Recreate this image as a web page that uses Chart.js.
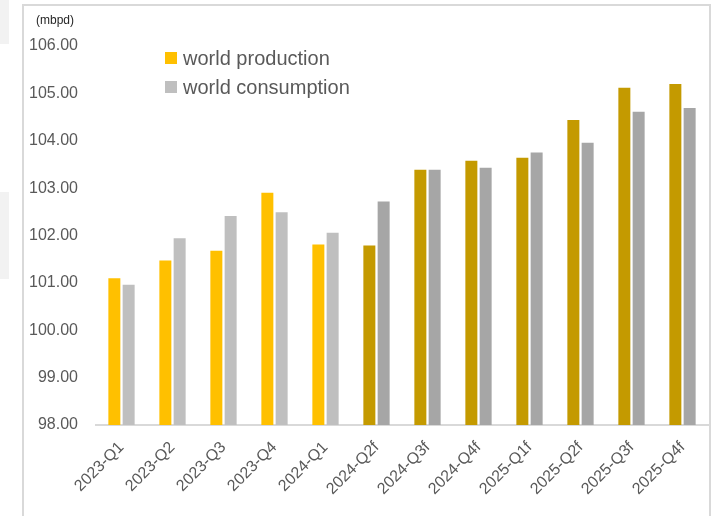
<!DOCTYPE html>
<html>
<head>
<meta charset="utf-8">
<script src="https://cdn.jsdelivr.net/npm/chart.js@4.4.0/dist/chart.umd.min.js"></script>
<style>
  body { margin: 0; background: #fff; overflow: hidden; }
  .side { position: absolute; left: 0; width: 9px; background: #f2f2f2; }
  #frame {
    position: absolute; left: 22px; top: 4px; width: 689px; height: 540px;
    border: 2px solid #d9d9d9; border-bottom: none; box-sizing: border-box;
  }
</style>
</head>
<body>
<div class="side" style="top:0;height:44px"></div>
<div class="side" style="top:192px;height:87px"></div>
<div id="frame"><canvas id="c"></canvas></div>
<script>
// quarters, forecasts marked with "f"
const quarters = ["2023-Q1", "2023-Q2", "2023-Q3", "2023-Q4", "2024-Q1", "2024-Q2f",
  "2024-Q3f", "2024-Q4f", "2025-Q1f", "2025-Q2f", "2025-Q3f", "2025-Q4f"];
const production = [101.10, 101.47, 101.68, 102.90, 101.81, 101.79,
  103.39, 103.58, 103.64, 104.44, 105.12, 105.20];
const consumption = [100.96, 101.94, 102.41, 102.49, 102.06, 102.72,
  103.39, 103.43, 103.75, 103.96, 104.61, 104.69];
const yTicks = [98, 99, 100, 101, 102, 103, 104, 105, 106];

const TEXT = "#595959";
const FONT = "'Liberation Sans', Arial, sans-serif";

// forecast bars are drawn darker
const isForecast = q => q.endsWith("f");
const prodColors = quarters.map(q => isForecast(q) ? "#C49A00" : "#FFC000");
const consColors = quarters.map(q => isForecast(q) ? "#A6A6A6" : "#BFBFBF");

// legend sits inside the plot, plus the unit label top-left
const insideLegend = {
  id: "insideLegend",
  afterDraw(chart) {
    const { ctx, chartArea } = chart;
    ctx.save();
    ctx.font = "12px " + FONT;
    ctx.fillStyle = "#262626";
    ctx.textBaseline = "middle";
    ctx.fillText("(mbpd)", 12, 15);

    ctx.font = "20px " + FONT;
    const x = chartArea.left + 69;
    const y0 = chartArea.top + 12;
    const swatch = ["#FFC000", "#BFBFBF"];
    chart.data.datasets.forEach((ds, i) => {
      const y = y0 + i * 29;
      ctx.fillStyle = swatch[i];
      ctx.fillRect(x, y - 6, 12, 12);
      ctx.fillStyle = TEXT;
      ctx.fillText(ds.label, x + 18, y + 1);
    });
    ctx.restore();
  }
};

new Chart(document.getElementById("c"), {
  type: "bar",
  data: {
    labels: quarters,
    datasets: [
      { label: "world production", data: production, backgroundColor: prodColors },
      { label: "world consumption", data: consumption, backgroundColor: consColors },
    ],
  },
  options: {
    responsive: true,
    maintainAspectRatio: false,
    animation: false,
    layout: { padding: { top: 40, right: 1, left: 0, bottom: 0 } },
    datasets: { bar: { categoryPercentage: 0.56, barPercentage: 0.84 } },
    plugins: { legend: { display: false }, tooltip: { enabled: false } },
    scales: {
      x: {
        grid: { display: false },
        border: { color: "#d9d9d9", width: 2 },
        ticks: {
          color: TEXT, font: { family: FONT, size: 16 },
          minRotation: 45, maxRotation: 45, padding: 5,
        },
        afterFit: s => { s.height = 119; s.paddingRight = 0; },
      },
      y: {
        min: 98, max: 106,
        grid: { display: false },
        border: { display: false },
        afterBuildTicks: s => { s.ticks = yTicks.map(v => ({ value: v })); },
        ticks: {
          color: TEXT, font: { family: FONT, size: 16 }, padding: 10,
          callback: v => v.toFixed(2),
        },
        afterFit: s => { s.width = 72; },
      },
    },
  },
  plugins: [insideLegend],
});
</script>
</body>
</html>
